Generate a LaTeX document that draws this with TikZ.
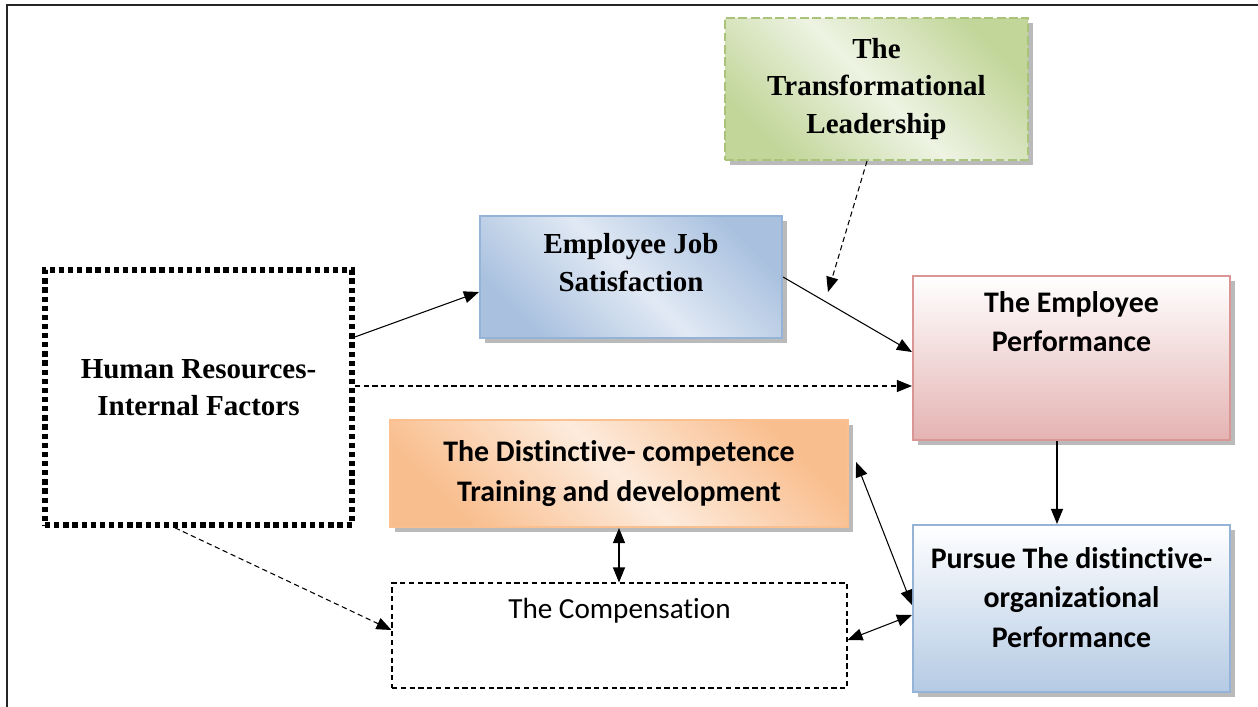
\documentclass[tikz,border=0pt]{standalone}
\usepackage{fontspec}
\setmainfont{Liberation Serif}
\newfontfamily\calibri[Ligatures=NoCommon]{Carlito}
\usepackage{xcolor}
\usetikzlibrary{shapes,arrows,arrows.meta,positioning,calc,shadows}

\definecolor{leadgreen}{HTML}{C2D69A}
\definecolor{leadgreenlt}{HTML}{EEF3E3}
\definecolor{leadborder}{HTML}{A9C47A}
\definecolor{satblue}{HTML}{A9C1DF}
\definecolor{satbluelt}{HTML}{E1E9F4}
\definecolor{blueborder}{HTML}{95B3D7}
\definecolor{perfpink}{HTML}{E4B3B2}
\definecolor{perfborder}{HTML}{D99694}
\definecolor{compor}{HTML}{F9BE8E}
\definecolor{comporlt}{HTML}{FDEBDC}
\definecolor{comborder}{HTML}{FAC090}
\definecolor{orgblue}{HTML}{B4CAE4}

\begin{document}
\begin{tikzpicture}[
    box/.style={draw, rectangle, align=center, inner sep=2pt, line width=1.2pt},
    shadowed/.style={drop shadow={shadow xshift=0.09cm, shadow yshift=-0.09cm, fill=black!45, opacity=0.6}},
    serifbox/.style={box, font=\fontsize{16.5}{21.6}\selectfont\bfseries},
    sansbox/.style={box, shadowed, font=\calibri\fontsize{17}{22.4}\selectfont\bfseries},
    arr/.style={-{Triangle[length=0.3cm,width=0.24cm]}, line width=0.6pt},
    dblarr/.style={{Triangle[length=0.3cm,width=0.24cm]}-{Triangle[length=0.3cm,width=0.24cm]}, line width=0.6pt},
    dasharr/.style={arr, dash pattern=on 3pt off 2pt}
]
    \useasboundingbox (0,0) rectangle (25.16,-14.14);

    % Outer frame
    \draw[line width=1.2pt, black!85] (25.16,-0.1) -- (0.14,-0.1) -- (0.14,-14.14);

    % Boxes
    \node[serifbox, shadowed, draw=leadborder, dash pattern=on 5pt off 2pt,
          left color=leadgreen, right color=leadgreen, middle color=leadgreenlt, shading angle=135,
          minimum width=6.06cm, minimum height=2.84cm] (lead) at (17.53,-1.78)
          {The\\Transformational\\Leadership};
    \node[serifbox, shadowed, draw=blueborder,
          left color=satblue, right color=satblue, middle color=satbluelt, shading angle=135,
          minimum width=6.04cm, minimum height=2.44cm, text depth=0.6cm] (sat) at (12.62,-5.54)
          {Employee Job\\Satisfaction};
    \node[sansbox, draw=perfborder, top color=white, bottom color=perfpink,
          minimum width=6.34cm, minimum height=3.28cm, text depth=1.45cm] (perf) at (21.43,-7.16)
          {The Employee\\Performance};
    \node[serifbox, draw, line width=3.2pt, dash pattern=on 3pt off 2.2pt,
          minimum width=6.14cm, minimum height=5.1cm, text depth=0.4cm] (hr) at (3.97,-7.95)
          {Human Resources-\\Internal Factors};
    \node[sansbox, draw=comborder,
          left color=compor, right color=compor, middle color=comporlt, shading angle=135,
          minimum width=9.16cm, minimum height=2.14cm] (comp) at (12.38,-9.47)
          {The Distinctive- competence\\Training and development};
    \node[draw, dash pattern=on 3pt off 2pt, line width=0.6pt, align=center,
          font=\calibri\fontsize{16.6}{20}\selectfont,
          minimum width=9.1cm, minimum height=2.1cm, text depth=1.1cm] (pay) at (12.39,-12.71)
          {The Compensation};
    \node[sansbox, draw=blueborder, top color=white, bottom color=orgblue,
          minimum width=6.34cm, minimum height=3.34cm, text depth=0.45cm] (org) at (21.43,-12.17)
          {Pursue The distinctive-\\organizational\\Performance};

    % Arrows
    \coordinate (leadend) at (16.56,-5.84);
    \draw[arr] ([yshift=1.21cm]hr.east) -- ([yshift=-0.3cm]sat.west);
    \draw[dasharr] ([yshift=0.23cm]hr.east) -- ([yshift=0.23cm]hr.east -| perf.west);
    \draw[arr] (sat.east) -- ([yshift=0.12cm]perf.west);
    \draw[dasharr] ([xshift=-0.19cm]lead.south) -- (leadend);
    \draw[arr] ([xshift=-0.29cm]perf.south) -- ([xshift=-0.29cm]perf.south |- org.north);
    \draw[dblarr] (comp.south) -- (comp.south |- pay.north);
    \draw[dblarr] ([xshift=0.14cm,yshift=0.23cm]comp.east) -- ([yshift=0.07cm]org.west);
    \draw[dblarr] ([yshift=-0.09cm]pay.east) -- ([yshift=-0.13cm]org.west);
    \draw[dasharr] ([xshift=-0.47cm]hr.south) -- ([yshift=0.11cm]pay.west);
\end{tikzpicture}
\end{document}
